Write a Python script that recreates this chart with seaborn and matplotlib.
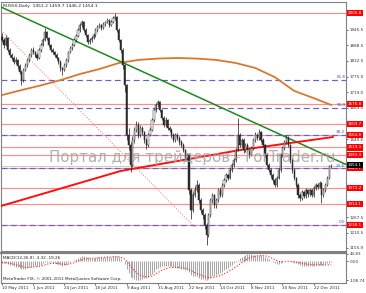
import numpy as np
import matplotlib
matplotlib.use("Agg")
import matplotlib.pyplot as plt
import matplotlib.transforms as mtransforms
import seaborn as sns

# ---------------- data ----------------
title_text = "RUS50,Daily  1451.2 1459.7 1446.2 1454.1"
first_open = 1920.0
close = [1908,1890,1915,1872,1854,1843,1829,1836,1814,1792,
         1763,1800,1818,1836,1854,1872,1865,1854,1843,1872,
         1890,1908,1937,1915,1890,1872,1865,1854,1843,1829,
         1807,1800,1818,1836,1865,1879,1890,1908,1923,1944,
         1962,1973,1944,1926,1901,1908,1915,1926,1944,1955,
         1962,1952,1966,1973,1980,1962,1973,1988,1991,1944,
         1908,1872,1818,1745,1565,1528,1456,1546,1583,1601,
         1565,1590,1575,1546,1528,1565,1583,1619,1655,1673,
         1684,1655,1626,1601,1619,1590,1583,1565,1546,1565,
         1554,1539,1528,1510,1481,1492,1366,1293,1348,1366,
         1384,1329,1293,1275,1239,1203,1275,1329,1348,1311,
         1329,1366,1348,1384,1402,1420,1409,1438,1456,1474,
         1510,1565,1528,1546,1510,1528,1510,1492,1518,1546,
         1565,1554,1575,1546,1528,1492,1456,1438,1420,1402,
         1384,1409,1438,1492,1518,1539,1554,1528,1474,1438,
         1409,1384,1348,1337,1358,1344,1366,1351,1366,1348,
         1373,1384,1376,1391,1348,1366,1384,1409,1451.2,1454.1]
high = [1935,1915,1925,1920,1880,1862,1850,1845,1840,1820,
        1798,1808,1825,1842,1860,1880,1882,1870,1860,1878,
        1896,1915,1950,1940,1920,1895,1880,1870,1860,1848,
        1835,1812,1825,1842,1870,1885,1898,1915,1930,1950,
        1970,1982,1976,1950,1930,1915,1922,1932,1950,1962,
        1968,1967,1972,1978,1986,1984,1980,1995,2005.8,1995,
        1950,1912,1878,1822,1750,1590,1540,1560,1595,1615,
        1610,1600,1598,1580,1555,1572,1592,1625,1662,1680,
        1691,1688,1660,1632,1628,1624,1598,1590,1570,1572,
        1570,1560,1545,1535,1515,1498,1495,1372,1360,1380,
        1402,1390,1335,1300,1282,1245,1282,1338,1356,1352,
        1338,1372,1375,1390,1410,1428,1425,1445,1462,1482,
        1518,1626,1572,1555,1552,1535,1534,1515,1525,1555,
        1575,1570,1585,1580,1552,1532,1498,1462,1445,1426,
        1408,1415,1445,1498,1525,1548,1565,1560,1532,1480,
        1444,1414,1390,1355,1364,1362,1372,1370,1372,1370,
        1380,1390,1390,1398,1395,1372,1390,1415,1456,1459.7]
low = [1900,1880,1885,1865,1845,1835,1820,1822,1805,1785,
       1745,1758,1795,1812,1830,1848,1858,1846,1836,1840,
       1866,1885,1904,1908,1884,1865,1858,1848,1835,1820,
       1795,1782,1795,1812,1830,1860,1872,1885,1902,1918,
       1938,1955,1938,1918,1892,1895,1902,1910,1920,1938,
       1950,1945,1948,1960,1968,1956,1958,1968,1980,1938,
       1900,1862,1805,1720,1546,1510,1431,1450,1535,1575,
       1555,1558,1565,1535,1515,1522,1560,1578,1612,1648,
       1665,1648,1618,1592,1595,1582,1575,1555,1538,1540,
       1545,1530,1520,1502,1472,1475,1350,1260,1285,1340,
       1360,1320,1282,1260,1225,1167,1195,1268,1320,1300,
       1302,1322,1340,1342,1378,1396,1400,1404,1432,1450,
       1468,1505,1520,1522,1500,1504,1502,1482,1488,1512,
       1540,1546,1548,1540,1520,1485,1448,1430,1410,1392,
       1375,1378,1404,1432,1486,1512,1532,1520,1465,1428,
       1400,1375,1338,1326,1330,1335,1338,1342,1345,1340,
       1342,1366,1370,1372,1318,1342,1360,1380,1404,1446.2]

macd_main = [-10,-12,-12,-15,-18,-22,-26,-30,-34,-38,
             -44,-44,-42,-38,-34,-30,-28,-27,-26,-22,
             -18,-12,-5,-3,-3,-5,-8,-10,-13,-17,
             -21,-24,-22,-18,-12,-6,0,6,12,18,
             24,28,28,26,22,20,19,19,21,23,
             25,25,26,27,28,27,27,29,31,28,
             22,14,2,-15,-45,-65,-88,-96,-102,-105,
             -106.74,-104,-101,-97,-94,-88,-80,-70,-58,-46,
             -36,-30,-27,-26,-25,-25,-26,-28,-31,-33,
             -36,-38,-41,-44,-48,-50,-62,-78,-84,-86,
             -86,-92,-98,-102,-105,-106,-100,-92,-86,-84,
             -80,-72,-66,-58,-50,-42,-36,-28,-20,-12,
             -2,10,18,24,30,36,43.83,42,40,38,
             38,37,37,35,32,27,20,12,4,-4,
             -12,-16,-16,-12,-6,0,4,4,0,-6,
             -8,-12,-16,-20,-24,-26,-26,-27,-26,-25,
             -24,-23,-22,-21,-20,-19,-16,-12,-8,-3.32]
macd_signal = [-6,-7.2,-8.2,-9.5,-11.2,-13.4,-15.9,-18.7,-21.8,-25,
               -28.8,-31.8,-33.9,-34.7,-34.6,-33.7,-32.5,-31.4,-30.3,-28.7,
               -26.5,-23.6,-19.9,-16.5,-13.8,-12,-11.2,-11,-11.4,-12.5,
               -14.2,-16.2,-17.3,-17.5,-16.4,-14.3,-11.5,-8,-4,0.4,
               5.1,9.7,13.4,15.9,17.1,17.7,18,18.2,18.8,19.6,
               20.7,21.6,22.5,23.4,24.3,24.8,25.3,26,27,27.2,
               26.2,23.8,19.4,12.5,1,-12.2,-27.4,-41.1,-53.3,-63.6,
               -72.2,-78.6,-83.1,-85.9,-87.5,-87.6,-86.1,-82.9,-77.9,-71.5,
               -64.4,-57.5,-51.4,-46.3,-42,-38.6,-36.1,-34.5,-33.8,-33.6,
               -34.1,-34.9,-36.1,-37.7,-39.8,-41.8,-45.8,-52.3,-58.6,-64.1,
               -68.5,-73.2,-78.1,-82.9,-87.3,-91,-92.8,-92.6,-91.3,-89.8,
               -87.9,-84.7,-81,-76.4,-71.1,-65.3,-59.4,-53.1,-46.5,-39.6,
               -32.1,-23.7,-15.4,-7.5,0,7.2,14.5,20,24,26.8,
               29,30.6,31.9,32.5,32.4,31.3,29,25.6,21.3,16.2,
               10.6,5.3,1,-1.6,-2.5,-2,-0.8,0.2,0.2,-1,
               -2.4,-4,-6,-8.5,-11,-13.2,-15,-16.6,-17.8,-18.8,
               -19.5,-20,-20.3,-20.5,-20.6,-20.6,-20.4,-20.1,-19.7,-19.26]

ma_idx = [0,10,20,30,40,50,60,70,80,90,100,110,120,130,140,150,160,169]
ma_val = [1709,1727,1744,1763,1785,1803,1825,1836,1841,1843,1841,1836,1825,1807,1774,1724,1698,1673]

green_idx = [-0.5, 176.6]
green_val = [2027.5, 1457.8]
redtl_idx = [-0.5, 60.9, 122.4, 170]
redtl_val = [1307.7, 1434.3, 1510.3, 1557.3]
pink_idx = [-0.5, 99.3]
pink_val = [1944.3, 1228.0]

red_levels = [2005.8, 1676.8, 1603.7, 1564.8, 1519.3, 1493.3, 1443.7, 1372.2, 1314.1, 1238.1]
fib_levels = [1238.1, 1443.7, 1565.0, 1662.0, 1763.0]
fib_labels = ["0.0", "23.6", "38.2", "50.0", "61.8"]
price_ticks = [1945.5, 1888.5, 1832.5, 1775.0, 1719.0, 1663.1, 1549.6, 1267.5, 1210.5, 1155.9]
last_price = 1454.1
date_idx = [0, 16, 32, 48, 64, 80, 96, 112, 128, 144, 160]
date_labels = ["10 May 2011", "1 Jun 2011", "24 Jun 2011", "18 Jul 2011", "9 Aug 2011",
               "31 Aug 2011", "22 Sep 2011", "14 Oct 2011", "8 Nov 2011", "30 Nov 2011",
               "22 Dec 2011"]
macd_ticks = [43.83, 0.0, -106.74]
macd_ticklabels = ["43.83", "0.00", "-106.74"]
macd_text = "MACD(12,26,9) -3.32 -19.26"
copyright_text = "MetaTrader FIX, \u00a9 2001-2011 MetaQuotes Software Corp."
watermark = "Портал для трейдеров - ForTrader.ru"

# ---------------- style ----------------
sns.set_style("white")
plt.rcParams["font.family"] = ["DejaVu Sans"]

W, H = 366, 293
fig = plt.figure(figsize=(W / 100, H / 100), dpi=100)

def px_axes(x0, y0, x1, y1):
    return [x0 / W, 1 - y1 / H, (x1 - x0) / W, (y1 - y0) / H]

ax = fig.add_axes(px_axes(1, 2, 346, 250.5))
ax2 = fig.add_axes(px_axes(1, 252.5, 346, 283))

XL = (-0.5, 176.6)
small = 3.0
edge_col = "#808080"
candle_col = "#2a2a2a"

# ---------------- main chart ----------------
n = len(close)
idx = np.arange(n)
c = np.array(close, dtype=float)
o = np.r_[first_open, c[:-1]]
h = np.array(high, dtype=float)
l = np.array(low, dtype=float)

# horizontal levels
for lv in red_levels:
    ax.axhline(lv, color="#ff8c8c", lw=0.85, zorder=1)
for lv in fib_levels:
    ax.axhline(lv, color="#6464c8", lw=0.85, ls=(0, (5, 3)), zorder=1.1)
ax.axhline(last_price, color="#b8b8b8", lw=0.5, zorder=1)

# trend lines and MA
sns.lineplot(x=pink_idx, y=pink_val, ax=ax, color="#f08a8a", lw=0.8,
             linestyle=(0, (1, 1.5)), zorder=2)
sns.lineplot(x=ma_idx, y=ma_val, ax=ax, color="#d9782d", lw=1.3, zorder=3)
sns.lineplot(x=green_idx, y=green_val, ax=ax, color="#1b8a1b", lw=1.1, zorder=3)
sns.lineplot(x=redtl_idx, y=redtl_val, ax=ax, color="#ff1010", lw=1.4, zorder=3)

# candles
ax.vlines(idx, l, h, color=candle_col, lw=0.55, zorder=4)
body_lo = np.minimum(o, c)
body_h = np.maximum(np.abs(c - o), 1.5)
bull = c >= o
ax.bar(idx[bull], body_h[bull], bottom=body_lo[bull], width=0.6,
       color="white", edgecolor=candle_col, linewidth=0.35, zorder=5)
ax.bar(idx[~bull], body_h[~bull], bottom=body_lo[~bull], width=0.6,
       color=candle_col, edgecolor=candle_col, linewidth=0.35, zorder=5)

ax.set_xlim(*XL)
ax.set_ylim(1146.7, 2045.6)
ax.set_xticks([])
ax.yaxis.tick_right()
ax.set_yticks(price_ticks)
ax.set_yticklabels([f"{v:.1f}" for v in price_ticks])
ax.tick_params(axis="y", which="both", labelsize=small, length=1.5, width=0.5,
               pad=1.2, colors="#303030", direction="out")
ax.set_xlabel("")
ax.set_ylabel("")
for s in ax.spines.values():
    s.set_color(edge_col)
    s.set_linewidth(0.8)

# fib labels
trans = mtransforms.blended_transform_factory(ax.transAxes, ax.transData)
for lv, lb in zip(fib_levels, fib_labels):
    ax.text(0.998, lv + 3, lb, transform=trans, ha="right", va="bottom",
            fontsize=small, color="#4a4ab8", zorder=6)

# red price boxes
for lv in red_levels:
    ax.text(1.006, lv, f"{lv:.1f}", transform=trans, ha="left", va="center",
            fontsize=small, color="white", clip_on=False, zorder=7,
            bbox=dict(boxstyle="square,pad=0.25", fc="#ff0000", ec="none"))
ax.text(1.006, last_price + 3, f"{last_price:.1f}", transform=trans, ha="left",
        va="center", fontsize=small, color="white", clip_on=False, zorder=8,
        bbox=dict(boxstyle="square,pad=0.25", fc="#000000", ec="none"))

# watermark
ax.text(0.553, 0.356, watermark, transform=ax.transAxes, ha="center",
        va="baseline", fontsize=10.8, color="#a4a4a4", alpha=0.85, zorder=6)

# title
fig.text(3 / W, 1 - 6.5 / H, title_text, ha="left", va="center",
         fontsize=small + 0.2, color="#202020")

# ---------------- MACD ----------------
ax2.vlines(idx, 0, macd_main, color="#a8a8a8", lw=0.75, zorder=2)
sns.lineplot(x=idx, y=macd_signal, ax=ax2, color="#ff2020", lw=0.8,
             linestyle=(0, (1, 1.6)), zorder=3)
ax2.set_xlim(*XL)
ax2.set_ylim(-123, 50.4)
ax2.yaxis.tick_right()
ax2.set_yticks(macd_ticks)
ax2.set_yticklabels(macd_ticklabels)
ax2.tick_params(axis="y", labelsize=small, length=1.5, width=0.5, pad=1.2,
                colors="#303030")
ax2.set_xticks(date_idx)
ax2.set_xticklabels(date_labels)
for t in ax2.get_xticklabels():
    t.set_ha("left")
ax2.tick_params(axis="x", labelsize=small, length=1.5, width=0.5, pad=1.0,
                colors="#303030", direction="out", bottom=True)
ax2.set_xlabel("")
ax2.set_ylabel("")
for s in ax2.spines.values():
    s.set_color(edge_col)
    s.set_linewidth(0.8)
ax2.spines["top"].set_linewidth(1.6)

ax2.text(0.006, 0.9, macd_text, transform=ax2.transAxes, ha="left", va="top",
         fontsize=small, color="#202020", zorder=5)
ax2.text(0.006, 0.06, copyright_text, transform=ax2.transAxes, ha="left",
         va="bottom", fontsize=small, color="#202020", zorder=5)

fig.savefig("out.png", dpi=100, facecolor="white")
